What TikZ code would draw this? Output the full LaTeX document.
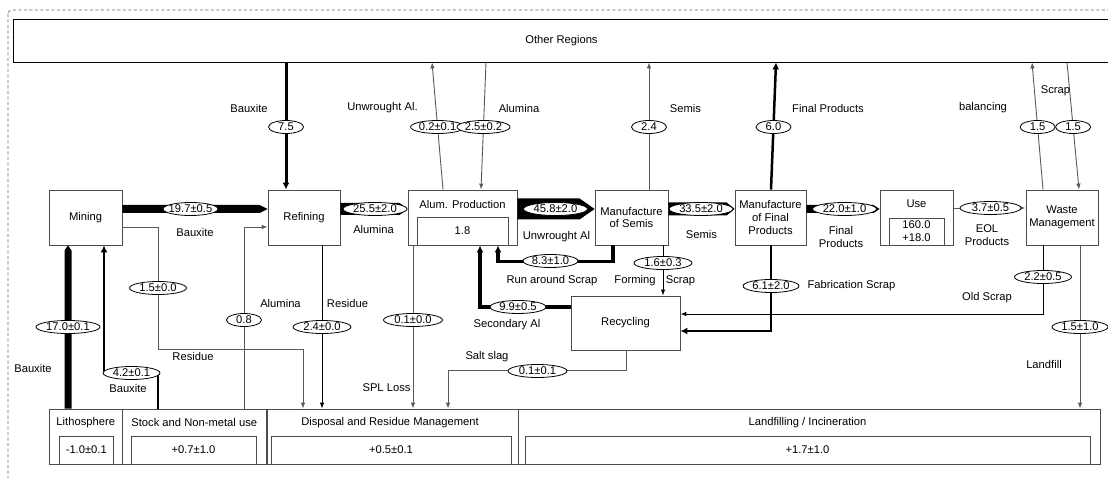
\documentclass[tikz,border=0pt]{standalone}
\usepackage{fontspec}
\setmainfont{Liberation Sans}
\usetikzlibrary{arrows.meta,calc,shapes.geometric}

% filled flow arrow: bar of half width #3 from #1 to #2 with a pointed head of length #4
\newcommand\flowbar[4]{%
  \path (#1) coordinate (bfs) (#2) coordinate (bft);
  \path ($(bft)!#4!(bfs)$) coordinate (bfh);
  \fill ($(bfs)!#3!90:(bft)$) -- ($(bfh)!#3!-90:(bfs)$) -- (bft)
        -- ($(bfh)!#3!90:(bfs)$) -- ($(bfs)!#3!-90:(bft)$) -- cycle;}

\begin{document}
\begin{tikzpicture}[x=1pt,y=-1pt,
  every node/.style={font=\fontsize{11.2}{12.8}\selectfont, inner sep=0pt},
  proc/.style={rectangle, draw=black!70, line width=0.8pt, minimum height=55pt, align=center},
  store/.style={rectangle, draw=black!70, line width=0.8pt, minimum height=55pt},
  ibox/.style={rectangle, draw=black!70, line width=0.8pt, align=center},
  lnthin/.style={draw=black!65, line width=0.9pt},
  lnbold/.style={draw=black, -{Latex[length=7pt,width=7pt]}},
  tip/.style={-{Latex[length=6pt,width=4.5pt]}},
  ell/.style={ellipse, draw=black, fill=white, line width=0.8pt, minimum width=56pt, minimum height=13pt},
  ells/.style={ell, minimum width=35pt},
  ellw/.style={ell, minimum width=64pt}]

\useasboundingbox (0,0) rectangle (1108,478);

% system boundary
\draw[black!60, line width=0.8pt, dash pattern=on 3pt off 2.5pt, rounded corners=4pt] (8,10) rectangle (1130,500);

% processes
\node[proc, draw=black, minimum width=1097pt, minimum height=43pt] (other) at (561.5,40.5) {Other Regions};
\node[proc, minimum width=73pt] (mining) at (85.5,217.5) {Mining};
\node[proc, minimum width=72pt] (refining) at (304,217.5) {Refining};
\node[proc, minimum width=109pt] (alum) at (462.5,217.5) {};
\node (alumt) at (462.5,204) {Alum. Production};
\node[ibox, minimum width=91pt, minimum height=28pt] (alumv) at (462.5,231) {1.8};
\node[proc, minimum width=73pt] (semis) at (631.5,217.5) {Manufacture\\of Semis};
\node[proc, minimum width=71pt] (final) at (770.5,217.5) {Manufacture\\of Final\\Products};
\node[proc, minimum width=73pt] (use) at (916.5,217.5) {};
\node (uset) at (916.5,204) {Use};
\node[ibox, minimum width=55pt, minimum height=27pt] (usev) at (916.5,231.5) {160.0\\+18.0};
\node[proc, minimum width=72pt] (waste) at (1062,217.5) {Waste\\Management};
\node[proc, minimum width=109pt, minimum height=54pt] (recyc) at (625.5,323) {Recycling};

% final sinks and stocks
\node[store, minimum width=73.5pt] (lith) at (85.75,436.5) {};
\node[store, minimum width=143.5pt] (stock) at (194.25,436.5) {};
\node[store, minimum width=251pt] (disp) at (392.5,436.5) {};
\node[store, minimum width=582pt] (landf) at (809,436.5) {};
\node (litht) at (85.75,422.5) {Lithosphere};
\node (stockt) at (194.25,422.5) {Stock and Non-metal use};
\node (dispt) at (390,422.5) {Disposal and Residue Management};
\node (landft) at (807.5,422.5) {Landfilling / Incineration};
\node[ibox, minimum width=54.6pt, minimum height=28pt] (lithv) at (86.3,450) {-1.0±0.1};
\node[ibox, minimum width=125pt, minimum height=28pt] (stockv) at (193.5,450) {+0.7±1.0};
\node[ibox, minimum width=240pt, minimum height=28pt] (dispv) at (391,450) {+0.5±0.1};
\node[ibox, minimum width=565pt, minimum height=28pt] (landfv) at (807.5,450) {+1.7±1.0};

% trade with other regions
\coordinate (b1) at ($(refining.north)+(-18,0)$);
\draw[lnbold, line width=3pt] (b1 |- other.south) -- (b1);
\draw[lnthin, tip] ($(alum.north)+(-19.5,0)$) -- ($(other.south)+(-129.5,0)$);
\draw[lnthin, tip] ($(other.south)+(-75.5,0)$) -- ($(alum.north)+(18.5,0)$);
\draw[lnthin, tip] ($(semis.north)+(17.5,0)$) -- ($(other.south)+(87.5,0)$);
\draw[lnbold, line width=2.5pt] ($(final.north)+(0.5,0)$) -- ($(other.south)+(214.5,0)$);
\draw[lnthin, tip] ($(waste.north)+(-19,0)$) -- ($(other.south)+(470.5,0)$);
\draw[lnthin, tip] ($(other.south)+(505.5,0)$) -- ($(waste.north)+(17,0)$);

% main chain
\flowbar{$(mining.east)+(0,-8.5)$}{$(refining.west)+(0,-8.5)$}{4pt}{8pt}
\flowbar{$(refining.east)+(0,-8.5)$}{$(alum.west)+(0,-8.5)$}{6pt}{8pt}
\flowbar{$(alum.east)+(0,-8.5)$}{$(semis.west)+(0,-8.5)$}{10.5pt}{15pt}
\flowbar{$(semis.east)+(0,-8.5)$}{$(final.west)+(0,-8.5)$}{6.5pt}{8pt}
\flowbar{$(final.east)+(0,-8.5)$}{$(use.west)+(0,-8.5)$}{4pt}{6pt}
\flowbar{$(lith.north)+(-17.75,0)$}{$(mining.south)+(-17.5,0)$}{3.5pt}{5pt}
\draw[lnthin, tip] ($(use.east)+(0,-9.5)$) -- ($(waste.west)+(0,-9.5)$);

% scrap loops
\draw[lnbold, line width=3.5pt] ($(semis.south)+(-18.5,0)$) -- ++(0,16) -| ($(alum.south)+(35.5,0)$);
\draw[lnthin, draw=black, tip] ($(semis.south)+(31.5,0)$) -- ($(recyc.north)+(37.5,0)$);
\draw[lnbold, line width=4.2pt] ($(recyc.west)+(0,-16)$) -| ($(alum.south)+(17.5,0)$);
\draw[lnbold, line width=2.6pt] ($(final.south)+(0.5,0)$) |- ($(recyc.east)+(0,8)$);
\draw[lnthin, draw=black, tip] ($(waste.south)+(-19,0)$) |- ($(recyc.east)+(0,-9)$);
\draw[lnthin, tip] ($(waste.south)+(18,0)$) -- ($(landf.north)+(271,0)$);

% residues and stocks
\draw[lnbold, line width=1.8pt] ($(stock.north)+(-36.25,0)$) -- ++(0,-36) -| ($(mining.south)+(18.5,0)$);
\draw[lnthin, tip] ($(mining.east)+(0,9.5)$) -- ++(36,0) |- ($(disp.north)+(-89.5,-59)$) -- ($(disp.north)+(-89.5,0)$);
\draw[lnthin, tip] ($(stock.north)+(49.75,0)$) |- ($(refining.west)+(0,9.5)$);
\draw[lnthin, draw=black, tip] ($(refining.south)+(18,0)$) -- ($(disp.north)+(-70.5,0)$);
\draw[lnthin, tip] ($(alum.south)+(-49.5,0)$) -- ($(disp.north)+(20.5,0)$);
\draw[lnthin, tip] ($(recyc.south)+(0.5,0)$) |- ($(disp.north)+(55.5,-38)$) -- ($(disp.north)+(55.5,0)$);

% flow values
\node[ells, label=center:{7.5}] (v1) at (286,127) {};
\node[ell, minimum width=54pt, label=center:{0.2±0.1}] (v2) at (437.6,127) {};
\node[ell, minimum width=53pt, label=center:{2.5±0.2}] (v3) at (483.5,127) {};
\node[ells, label=center:{2.4}] (v4) at (649,127) {};
\node[ells, label=center:{6.0}] (v5) at (773.5,127) {};
\node[ells, label=center:{1.5}] (v6) at (1037.6,127) {};
\node[ells, label=center:{1.5}] (v7) at (1073.1,127) {};
\node[ell, minimum width=55pt, label=center:{19.7±0.5}] (v8) at (190.5,209) {};
\node[ellw, label=center:{25.5±2.0}] (v9) at (375,209) {};
\node[ellw, label=center:{45.8±2.0}] (v10) at (555.5,209) {};
\node[ellw, label=center:{33.5±2.0}] (v11) at (701,209) {};
\node[ellw, label=center:{22.0±1.0}] (v12) at (844.5,209) {};
\node[ell, minimum width=61pt, label=center:{3.7±0.5}] (v13) at (990.5,208) {};
\node[ell, minimum width=55pt, label=center:{8.3±1.0}] (v14) at (550.5,261) {};
\node[ell, minimum width=58pt, label=center:{1.6±0.3}] (v15) at (663,263) {};
\node[ell, label=center:{9.9±0.5}] (v16) at (518,307) {};
\node[ell, label=center:{6.1±2.0}] (v17) at (771,286) {};
\node[ell, minimum width=57pt, label=center:{2.2±0.5}] (v18) at (1043,277) {};
\node[ell, label=center:{1.5±1.0}] (v19) at (1080,327) {};
\node[ellw, label=center:{17.0±0.1}] (v20) at (68,327) {};
\node[ell, minimum width=57pt, label=center:{1.5±0.0}] (v21) at (158,288) {};
\node[ells, label=center:{0.8}] (v22) at (244,320) {};
\node[ell, minimum width=58pt, label=center:{2.4±0.0}] (v23) at (322,327) {};
\node[ell, minimum width=59pt, label=center:{0.1±0.0}] (v24) at (413,320) {};
\node[ell, minimum width=57pt, label=center:{4.2±0.1}] (v25) at (131.5,373) {};
\node[ell, minimum width=59pt, label=center:{0.1±0.1}] (v26) at (537.5,371) {};

% flow names
\node (n1) at (249,108) {Bauxite};
\node (n2) at (382.5,108) {Unwrought Al.};
\node (n3) at (519,108) {Alumina};
\node (n4) at (685.5,108) {Semis};
\node (n5) at (828,108) {Final Products};
\node (n6) at (983,108) {balancing};
\node (n7) at (1055.5,91) {Scrap};
\node (n8) at (195,232) {Bauxite};
\node (n9) at (373.5,229) {Alumina};
\node (n10) at (556.5,237) {Unwrought Al};
\node (n11) at (701.5,234) {Semis};
\node[align=center] (n12) at (841,237) {Final\\Products};
\node[align=center] (n13) at (987,235) {EOL\\Products};
\node (n14) at (552,281) {Run around Scrap};
\node (n15) at (635,281) {Forming};
\node (n16) at (680.5,281) {Scrap};
\node (n17) at (507,325) {Secondary Al};
\node (n18) at (851.5,286) {Fabrication Scrap};
\node (n19) at (987,298) {Old Scrap};
\node (n20) at (1044,364) {Landfill};
\node (n21) at (33,368) {Bauxite};
\node (n22) at (128,388) {Bauxite};
\node (n23) at (193,356) {Residue};
\node (n24) at (280.5,303) {Alumina};
\node (n25) at (347.5,303) {Residue};
\node (n26) at (386.5,388) {SPL Loss};
\node (n27) at (487,357) {Salt slag};

\end{tikzpicture}
\end{document}
